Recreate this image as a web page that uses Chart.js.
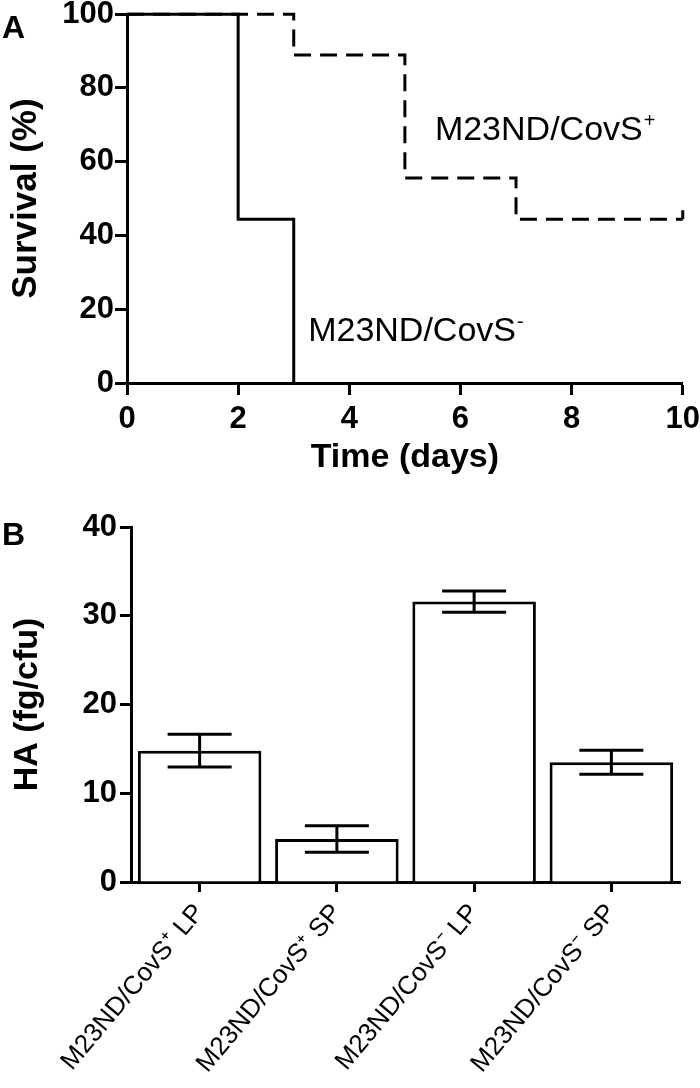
<!DOCTYPE html>
<html>
<head>
<meta charset="utf-8">
<script src="https://cdn.jsdelivr.net/npm/chart.js@4/dist/chart.umd.min.js"></script>
<style>
  html, body { margin: 0; padding: 0; background: #fff; }
  #wrap { position: relative; width: 700px; height: 1088px; }
  canvas { position: absolute; left: 0; }
  #survival { top: 0; }
  #ha { top: 500px; }
</style>
</head>
<body>
<div id="wrap">
  <canvas id="survival" width="700" height="500"></canvas>
  <canvas id="ha" width="700" height="588"></canvas>
</div>
<script>
// panel A - survival curves
const daysCovSMinus = [0, 2, 3];
const survivalCovSMinus = [100, 44.4, 0];
const daysCovSPlus = [0, 3, 5, 7, 10];
const survivalCovSPlus = [100, 88.9, 55.6, 44.4, 44.4];
const dayTicks = [0, 2, 4, 6, 8, 10];
const survivalTicks = [0, 20, 40, 60, 80, 100];

// panel B - HA per cfu
const strainLabels = ["M23ND/CovS\u207A LP", "M23ND/CovS\u207A SP", "M23ND/CovS\u207B LP", "M23ND/CovS\u207B SP"];
const haMean = [14.8, 4.85, 31.6, 13.5];
const haSem = [1.85, 1.5, 1.2, 1.35];
const haTicks = [0, 10, 20, 30, 40];

const FONT = '"Liberation Sans", Arial, Helvetica, sans-serif';
Chart.defaults.font.family = FONT;
Chart.defaults.color = "#000";

const toXY = (xs, ys) => xs.map((x, i) => ({ x: x, y: ys[i] }));
const setTicks = list => scale => { scale.ticks = list.map(v => ({ value: v })); };

// curve names placed in data units
const curveNames = [
  { text: "M23ND/CovS", sup: "+", day: 5.54, pct: 65.8 },
  { text: "M23ND/CovS", sup: "-", day: 3.26, pct: 11.4 },
];

const panelLetter = letter => ({
  id: "letter" + letter,
  afterDraw(chart) {
    const ctx = chart.ctx;
    ctx.save();
    ctx.font = "bold 32px " + FONT;
    ctx.fillStyle = "#000";
    ctx.textBaseline = "alphabetic";
    ctx.fillText(letter, 2, letter === "A" ? 38 : 45);
    ctx.restore();
  }
});

const curveNamePlugin = {
  id: "curveNames",
  afterDatasetsDraw(chart) {
    const { ctx, scales: { x, y } } = chart;
    ctx.save();
    ctx.fillStyle = "#000";
    ctx.textBaseline = "alphabetic";
    curveNames.forEach(n => {
      const px = x.getPixelForValue(n.day);
      const py = y.getPixelForValue(n.pct);
      ctx.font = "34px " + FONT;
      ctx.fillText(n.text, px, py);
      const w = ctx.measureText(n.text).width;
      ctx.font = "20px " + FONT;
      ctx.fillText(n.sup, px + w + 1, py - 13);
    });
    ctx.restore();
  }
};

const axisStyle = {
  grid: { display: true, drawOnChartArea: false, color: "#000", tickLength: 12, tickWidth: 3 },
  border: { display: true, color: "#000", width: 3 },
};

new Chart(document.getElementById("survival"), {
  type: "line",
  data: {
    datasets: [
      {
        label: "M23ND/CovS-",
        data: toXY(daysCovSMinus, survivalCovSMinus),
        stepped: true,
        borderColor: "#000",
        borderWidth: 3,
        pointRadius: 0,
        fill: false,
        clip: 6,
      },
      {
        label: "M23ND/CovS+",
        data: toXY(daysCovSPlus, survivalCovSPlus),
        stepped: true,
        borderColor: "#000",
        borderWidth: 3,
        borderDash: [17, 9],
        fill: false,
        clip: 12,
        // censor mark on the last point
        pointStyle: "dash",
        pointRotation: -90,
        pointRadius: ctx => ctx.dataIndex === daysCovSPlus.length - 1 ? 9 : 0,
        pointBorderColor: "#000",
        pointBorderWidth: 3,
      },
    ],
  },
  options: {
    responsive: false,
    animation: false,
    layout: { padding: 0 },
    plugins: { legend: { display: false }, tooltip: { enabled: false } },
    scales: {
      x: {
        type: "linear",
        min: 0,
        max: 10,
        afterBuildTicks: setTicks(dayTicks),
        ...axisStyle,
        ticks: { font: { size: 31, weight: "bold", lineHeight: 1.6 }, padding: 0 },
        title: { display: true, text: "Time (days)", font: { size: 34, weight: "bold" }, padding: { top: 0, bottom: 22 } },
        afterFit: s => { s.height = 117; },
      },
      y: {
        min: 0,
        max: 100,
        afterBuildTicks: setTicks(survivalTicks),
        ...axisStyle,
        ticks: { font: { size: 31, weight: "bold", lineHeight: 0.85 }, padding: 1 },
        title: { display: true, text: "Survival (%)", font: { size: 35, weight: "bold" }, padding: { top: 5, bottom: 0 } },
        afterFit: s => { s.width = 127; },
      },
    },
  },
  plugins: [curveNamePlugin, panelLetter("A")],
});

const errorBarPlugin = {
  id: "errorBars",
  afterDatasetsDraw(chart) {
    const { ctx, scales: { y } } = chart;
    const meta = chart.getDatasetMeta(0);
    ctx.save();
    ctx.strokeStyle = "#000";
    ctx.lineWidth = 3;
    meta.data.forEach((bar, i) => {
      const top = y.getPixelForValue(haMean[i] + haSem[i]);
      const bot = y.getPixelForValue(haMean[i] - haSem[i]);
      const half = 32;
      ctx.beginPath();
      ctx.moveTo(bar.x, top); ctx.lineTo(bar.x, bot);
      ctx.moveTo(bar.x - half, top); ctx.lineTo(bar.x + half, top);
      ctx.moveTo(bar.x - half, bot); ctx.lineTo(bar.x + half, bot);
      ctx.stroke();
    });
    ctx.restore();
  }
};

new Chart(document.getElementById("ha"), {
  type: "bar",
  data: {
    labels: strainLabels,
    datasets: [{
      label: "HA",
      data: haMean,
      backgroundColor: "#fff",
      borderColor: "#000",
      borderWidth: 3,
      barPercentage: 0.9,
      categoryPercentage: 1.0,
    }],
  },
  options: {
    responsive: false,
    animation: false,
    layout: { padding: { top: 27, right: 20, left: 0, bottom: 0 } },
    plugins: { legend: { display: false }, tooltip: { enabled: false } },
    scales: {
      x: {
        grid: { display: true, drawOnChartArea: false, offset: false, color: "#000", tickLength: 10, tickWidth: 3 },
        border: { display: true, color: "#000", width: 3 },
        ticks: { font: { size: 26 }, minRotation: 50, maxRotation: 50, autoSkip: false, padding: 6 },
        afterFit: s => { s.height = 206; },
      },
      y: {
        min: 0,
        max: 40,
        afterBuildTicks: setTicks(haTicks),
        grid: { display: true, drawOnChartArea: false, color: "#000", tickLength: 11, tickWidth: 3 },
        border: { display: true, color: "#000", width: 3 },
        ticks: { font: { size: 31, weight: "bold", lineHeight: 1 }, padding: 3 },
        title: { display: true, text: "HA (fg/cfu)", font: { size: 34, weight: "bold" }, padding: { top: 7, bottom: 0 } },
        afterFit: s => { s.width = 131; },
      },
    },
  },
  plugins: [errorBarPlugin, panelLetter("B")],
});
</script>
</body>
</html>
